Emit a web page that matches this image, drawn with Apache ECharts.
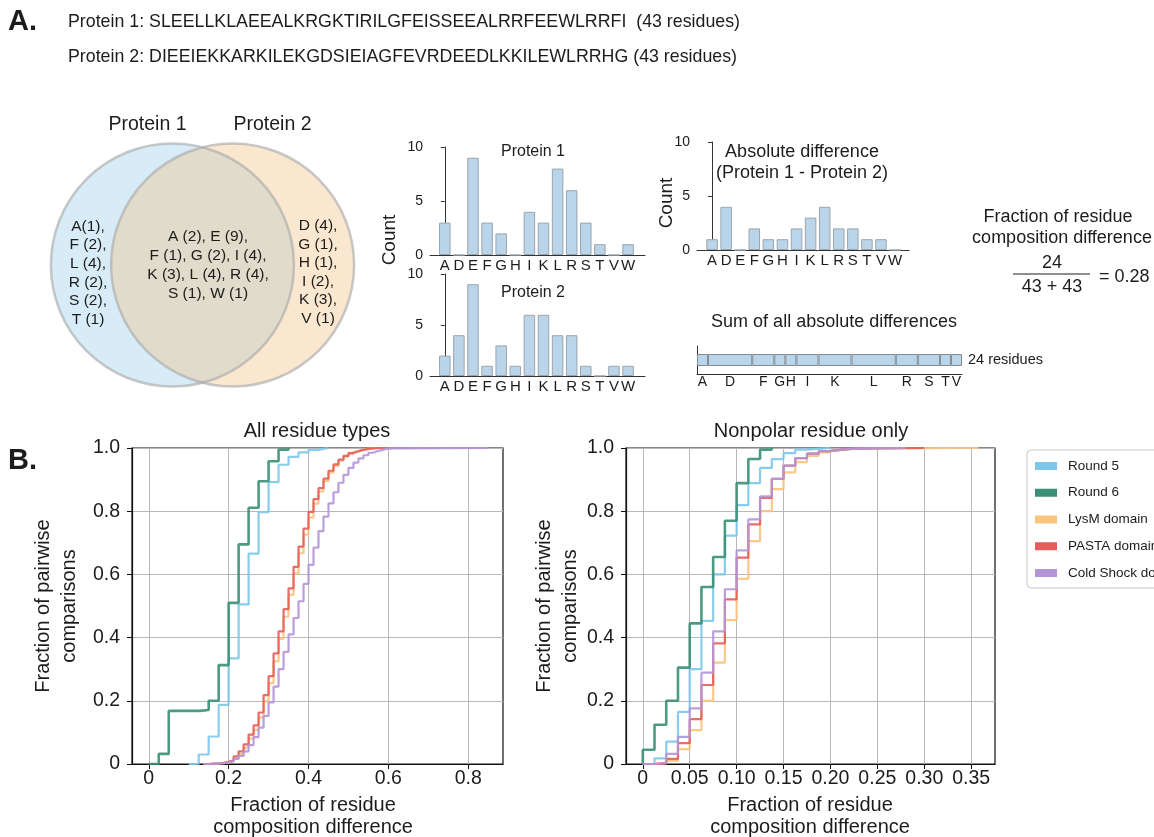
<!DOCTYPE html>
<html><head><meta charset="utf-8">
<script src="https://cdn.jsdelivr.net/npm/echarts@6/dist/echarts.min.js"></script>
<style>html,body{margin:0;padding:0;background:#fff}#c{width:1154px;height:837px}</style>
</head><body><div id="c"></div><script>
// ---------------- DATA ----------------
const protein1Seq = 'SLEELLKLAEEALKRGKTIRILGFEISSEEALRRFEEWLRRFI';
const protein2Seq = 'DIEEIEKKARKILEKGDSIEIAGFEVRDEEDLKKILEWLRRHG';
const residues = ['A','D','E','F','G','H','I','K','L','R','S','T','V','W'];
const protein1Counts = [3,0,9,3,2,0,4,3,8,6,3,1,0,1];
const protein2Counts = [2,4,9,1,3,1,6,6,4,4,1,0,1,1];
const absDiffCounts  = [1,4,0,2,1,1,2,3,4,2,2,1,1,0];
const vennOnly1  = ['A(1),','F (2),','L (4),','R (2),','S (2),','T (1)'];
const vennShared = ['A (2), E (9),','F (1), G (2), I (4),','K (3), L (4), R (4),','S (1), W (1)'];
const vennOnly2  = ['D (4),','G (1),','H (1),','I (2),','K (3),','V (1)'];

const seriesNames = ['Round 5','Round 6','LysM domain','PASTA domain','Cold Shock domain'];
const allTicks = [0,0.2,0.4,0.6,0.8];
const npTicks = [0,0.05,0.10,0.15,0.20,0.25,0.30,0.35];

// All residue types (ECDF step points)
const allX_round5 = [0.1,0.125,0.15,0.175,0.2,0.225,0.25,0.275,0.3,0.325,0.35,0.375,0.4,0.425,0.45];
const allY_round5 = [0,0.03,0.087,0.187,0.334,0.505,0.666,0.797,0.892,0.947,0.972,0.986,0.994,1.0,1.0];
const allX_round6 = [0,0.025,0.05,0.1275,0.15,0.175,0.2,0.225,0.25,0.275,0.3,0.325,0.35];
const allY_round6 = [0,0.032,0.168,0.171,0.2,0.313,0.51,0.695,0.811,0.895,0.958,0.995,1.0];
const allX_domain = [0.1375,0.15,0.1625,0.175,0.1875,0.2,0.2125,0.225,0.2375,0.25,0.2625,0.275,0.2875,0.3,0.3125,0.325,0.3375,0.35,0.3625,0.375,0.3875,0.4,0.4125,0.425,0.4375,0.45,0.4625,0.475,0.4875,0.5,0.5125,0.525,0.5375,0.55,0.5625,0.575,0.5875,0.6,0.6125];
const allY_lysm  = [0,0,0.001,0.003,0.005,0.009,0.018,0.032,0.052,0.08,0.108,0.147,0.198,0.256,0.325,0.396,0.466,0.535,0.603,0.667,0.726,0.78,0.824,0.862,0.895,0.922,0.943,0.96,0.973,0.982,0.989,0.994,0.997,0.999,1,1,1,1,1];
const allY_pasta = [0,0.001,0.002,0.004,0.007,0.012,0.024,0.04,0.062,0.093,0.122,0.163,0.218,0.278,0.35,0.42,0.49,0.556,0.624,0.688,0.745,0.798,0.838,0.873,0.903,0.928,0.948,0.963,0.975,0.984,0.99,0.994,0.997,0.999,1,1,1,1,1];
const allY_cold  = [0,0.001,0.002,0.003,0.005,0.009,0.016,0.026,0.04,0.06,0.085,0.115,0.152,0.195,0.245,0.3,0.355,0.41,0.462,0.515,0.57,0.63,0.685,0.737,0.783,0.825,0.86,0.89,0.915,0.937,0.954,0.967,0.977,0.985,0.991,0.995,0.998,0.999,1];
const allEnd = {lysm:0.7, pasta:0.72, cold:0.85};

// Nonpolar residues only
const npX_round5 = [0,0.0125,0.025,0.0375,0.05,0.0625,0.075,0.0875,0.1,0.1125,0.125,0.1375,0.15,0.1625,0.175,0.2];
const npY_round5 = [0,0.018,0.071,0.165,0.3,0.453,0.6,0.723,0.819,0.889,0.937,0.965,0.984,0.995,1,1];
const npX_round6 = [0,0,0.0125,0.025,0.0375,0.05,0.0625,0.075,0.0875,0.1,0.1125,0.125,0.1375];
const npY_round6 = [0,0.045,0.124,0.2,0.305,0.445,0.56,0.655,0.77,0.889,0.965,0.995,1];
const npX_lysm  = [0,0.0125,0.025,0.0375,0.05,0.0625,0.075,0.0875,0.1,0.1125,0.125,0.1375,0.15,0.1625,0.175,0.1875,0.2,0.2125,0.225,0.25,0.3575];
const npY_lysm  = [0,0.002,0.01,0.047,0.107,0.2,0.321,0.455,0.586,0.705,0.8,0.87,0.923,0.955,0.975,0.986,0.993,0.997,0.999,1,1];
const npX_pasta = [0,0.0125,0.025,0.0375,0.05,0.0625,0.075,0.0875,0.1,0.1125,0.125,0.1375,0.15,0.1625,0.175,0.1875,0.2,0.2125,0.225,0.3];
const npY_pasta = [0,0.003,0.016,0.066,0.142,0.25,0.382,0.521,0.653,0.758,0.842,0.902,0.944,0.968,0.982,0.99,0.995,0.998,1,1];
const npX_cold  = [0,0.0125,0.025,0.0375,0.05,0.0625,0.075,0.0875,0.1,0.1125,0.125,0.1375,0.15,0.1625,0.175,0.1875,0.2,0.2125,0.225,0.28];
const npY_cold  = [0,0.004,0.032,0.086,0.176,0.289,0.42,0.553,0.676,0.774,0.847,0.902,0.944,0.968,0.982,0.99,0.995,0.998,1,1];

// ---------------- STYLE ----------------
const FONT = '"Liberation Sans", Arial, Helvetica, sans-serif';
const INK = '#1c1c1c';
const colors = ['#7cc6ea','#3a8f76','#f9c47d','#e35d5b','#b495d8'];
const barFill = '#bad4e9', barEdge = '#9aa5ae';

function T(text, x, y, size, o) {
  o = o || {};
  return {type:'text', x:x, y:y, rotation:o.rot||0, silent:true, z:50,
    style:{text:text, font:(o.bold?'bold ':'')+size+'px '+FONT, fill:o.color||INK,
      textAlign:o.align||'center', textVerticalAlign:'middle', lineHeight:o.lh||Math.round(size*1.2)}};
}

const len1 = protein1Seq.length, len2 = protein2Seq.length;
const total = absDiffCounts.reduce((a,b)=>a+b,0);
const frac = (total/(len1+len2)).toFixed(2);
const ROT = Math.PI/2;

const graphics = [
  T('A.', 8, 22, 29, {bold:true, align:'left'}),
  T('Protein 1: '+protein1Seq+'  ('+len1+' residues)', 68, 22, 17.8, {align:'left'}),
  T('Protein 2: '+protein2Seq+' ('+len2+' residues)', 68, 57, 17.8, {align:'left'}),
  T('Protein 1', 147.5, 125, 19.5), T('Protein 2', 272.5, 125, 19.5),
  T(vennOnly1.join('\n'), 88, 273, 15.5, {lh:18.7}),
  T(vennShared.join('\n'), 208, 265, 15.5, {lh:18.9}),
  T(vennOnly2.join('\n'), 318, 272, 15.5, {lh:18.5}),
  T('Count', 390, 240, 19, {rot:ROT}),
  T('Count', 667, 203, 19, {rot:ROT}),
  T('Protein 1', 533, 152, 16), T('Protein 2', 533, 293, 16),
  T('Absolute difference', 802, 152, 18), T('(Protein 1 - Protein 2)', 802, 173, 18),
  T('Sum of all absolute differences', 834, 322, 18),
  T(total+' residues', 968, 360, 14.5, {align:'left'}),
  T('Fraction of residue', 1058, 217, 18), T('composition difference', 1062, 238, 18),
  T(String(total), 1052, 263, 18), T(len1+' + '+len2, 1052, 287, 18),
  {type:'line', silent:true, shape:{x1:1013, y1:274, x2:1090, y2:274}, style:{stroke:INK, lineWidth:1.2}},
  T('= '+frac, 1099, 277, 18, {align:'left'}),
  T('B.', 8, 461, 29, {bold:true, align:'left'}),
  T('All residue types', 317, 431, 20), T('Nonpolar residue only', 811, 431, 20),
  T('Fraction of pairwise\ncomparisons', 56, 606, 20, {rot:ROT, lh:26}),
  T('Fraction of pairwise\ncomparisons', 557, 606, 20, {rot:ROT, lh:26}),
  T('Fraction of residue\ncomposition difference', 313, 816, 20, {lh:22}),
  T('Fraction of residue\ncomposition difference', 810, 816, 20, {lh:22})
];

// ---------------- AXES ----------------
const idx = residues.map((r,i)=>i);
function histX(gi, min, max) {
  return {gridIndex:gi, type:'value', min:min, max:max,
    axisLine:{show:true, onZero:false, lineStyle:{color:'#333', width:1}},
    axisTick:{show:false}, splitLine:{show:false},
    axisLabel:{customValues:idx, formatter:v=>residues[Math.round(v)], fontSize:15, margin:3, color:INK, fontFamily:FONT}};
}
function histY(gi) {
  return {gridIndex:gi, type:'value', min:0, max:10, interval:5,
    axisLine:{show:true, lineStyle:{color:'#333', width:1}},
    axisTick:{show:true, length:4, lineStyle:{color:'#333'}}, splitLine:{show:false},
    axisLabel:{fontSize:14, margin:7, color:INK, fontFamily:FONT}};
}
function cdfX(gi, min, max, ticks, fmt) {
  return {gridIndex:gi, type:'value', min:min, max:max,
    axisLine:{show:true, onZero:false, lineStyle:{color:'#111', width:1.2}},
    axisTick:{show:true, customValues:ticks, length:5, lineStyle:{color:'#111'}},
    splitLine:{show:true, lineStyle:{color:'#b8b8b8', width:1}},
    axisLabel:{customValues:ticks, formatter:fmt, fontSize:19.5, margin:5, color:INK, fontFamily:FONT}};
}
function cdfY(gi) {
  return {gridIndex:gi, type:'value', min:0, max:1, interval:0.2,
    axisLine:{show:true, onZero:false, lineStyle:{color:'#111', width:1.2}},
    axisTick:{show:true, length:5, lineStyle:{color:'#111'}},
    splitLine:{show:true, lineStyle:{color:'#b8b8b8', width:1}},
    axisLabel:{formatter:v=>v===0?'0':v.toFixed(1), fontSize:19.5, margin:12, color:INK, fontFamily:FONT}};
}

const grids = [
  {left:52, top:143, width:301, height:244},      // venn
  {left:430, top:147, width:215, height:108},     // protein 1
  {left:430, top:274, width:215, height:102},     // protein 2
  {left:697, top:142, width:212, height:108},     // abs diff
  {left:697, top:346, width:265, height:28},      // sum bar
  {left:132, top:448, width:371, height:316, show:true, borderColor:'#111', borderWidth:1.2, backgroundColor:'rgba(0,0,0,0)'},
  {left:626, top:448, width:369, height:316, show:true, borderColor:'#111', borderWidth:1.2, backgroundColor:'rgba(0,0,0,0)'}
];

const xAxes = [
  {gridIndex:0, type:'value', min:-1, max:1, show:false},
  histX(1,-1.05,14.2), histX(2,-1.05,14.2), histX(3,-1.07,13.99),
  {gridIndex:4, type:'value', min:0, max:total, axisLine:{show:true, lineStyle:{color:'#333'}}, axisTick:{show:false}, axisLabel:{show:false}, splitLine:{show:false}},
  cdfX(5,-0.042,0.887,allTicks,v=>v===0?'0':v.toFixed(1)),
  cdfX(6,-0.0179,0.3754,npTicks,v=>v===0?'0':v.toFixed(2))
];
const yAxes = [
  {gridIndex:0, type:'value', min:-1, max:1, show:false},
  histY(1), histY(2), histY(3),
  {gridIndex:4, type:'category', data:[''], axisLine:{show:true, lineStyle:{color:'#333'}}, axisTick:{show:false}, axisLabel:{show:false}},
  cdfY(5), cdfY(6)
];

// ---------------- SERIES ----------------
const series = [];
const vennCircleX = [-0.2, 0.2];
series.push({type:'scatter', xAxisIndex:0, yAxisIndex:0, silent:true, symbolSize:243, data:[[vennCircleX[0],0]], itemStyle:{color:'rgba(155,207,235,0.5)'}});
series.push({type:'scatter', xAxisIndex:0, yAxisIndex:0, silent:true, symbolSize:243, data:[[vennCircleX[1],0]], itemStyle:{color:'rgba(240,190,128,0.46)'}});
series.push({type:'scatter', xAxisIndex:0, yAxisIndex:0, silent:true, symbolSize:243, data:vennCircleX.map(x=>[x,0]), itemStyle:{color:'rgba(0,0,0,0)', borderColor:'rgba(170,170,170,0.8)', borderWidth:2.5}});

function histSeries(gi, vals) {
  return {type:'bar', xAxisIndex:gi, yAxisIndex:gi, silent:true, barWidth:11.5,
    data:vals.map((v,i)=>[i,v]), itemStyle:{color:barFill, borderColor:barEdge, borderWidth:1}};
}
series.push(histSeries(1, protein1Counts), histSeries(2, protein2Counts), histSeries(3, absDiffCounts));

residues.forEach((r,i)=>{
  if (absDiffCounts[i] > 0) series.push({type:'bar', xAxisIndex:4, yAxisIndex:4, stack:'sum', silent:true, barWidth:12,
    data:[absDiffCounts[i]], itemStyle:{color:barFill, borderColor:'#7f8b95', borderWidth:1},
    label:{show:true, position:'bottom', distance:9, formatter:r, fontSize:14, color:INK, fontFamily:FONT}});
});

function cdf(k, gi, xs, ys, endX) {
  const d = xs.map((x,i)=>[x, ys[i]]);
  if (endX !== undefined) d.push([endX, 1]);
  return {type:'line', name:seriesNames[k], xAxisIndex:gi, yAxisIndex:gi, step:'end', symbol:'none', showSymbol:false, silent:true,
    color:colors[k], data:d, lineStyle:{color:colors[k], width:k===1?2.6:2.2, opacity:0.9}, z:3+k};
}
series.push(
  cdf(0,5,allX_round5,allY_round5), cdf(1,5,allX_round6,allY_round6),
  cdf(2,5,allX_domain,allY_lysm,allEnd.lysm), cdf(3,5,allX_domain,allY_pasta,allEnd.pasta), cdf(4,5,allX_domain,allY_cold,allEnd.cold),
  cdf(0,6,npX_round5,npY_round5), cdf(1,6,npX_round6,npY_round6),
  cdf(2,6,npX_lysm,npY_lysm), cdf(3,6,npX_pasta,npY_pasta), cdf(4,6,npX_cold,npY_cold)
);

const chart = echarts.init(document.getElementById('c'), null, {renderer:'canvas'});
chart.setOption({
  animation:false,
  backgroundColor:'#fff',
  textStyle:{fontFamily:FONT},
  grid:grids, xAxis:xAxes, yAxis:yAxes, series:series, graphic:graphics,
  legend:{data:seriesNames, orient:'vertical', left:1027, top:450, padding:[8,40,7,8], itemGap:10.75,
    itemWidth:22, itemHeight:8, icon:'rect', borderColor:'#c8c8c8', borderWidth:1, borderRadius:4, backgroundColor:'#fff',
    selectedMode:false, textStyle:{fontSize:13.5, color:INK, fontFamily:FONT, lineHeight:16, padding:[0,0,0,6]}}
});
</script></body></html>
